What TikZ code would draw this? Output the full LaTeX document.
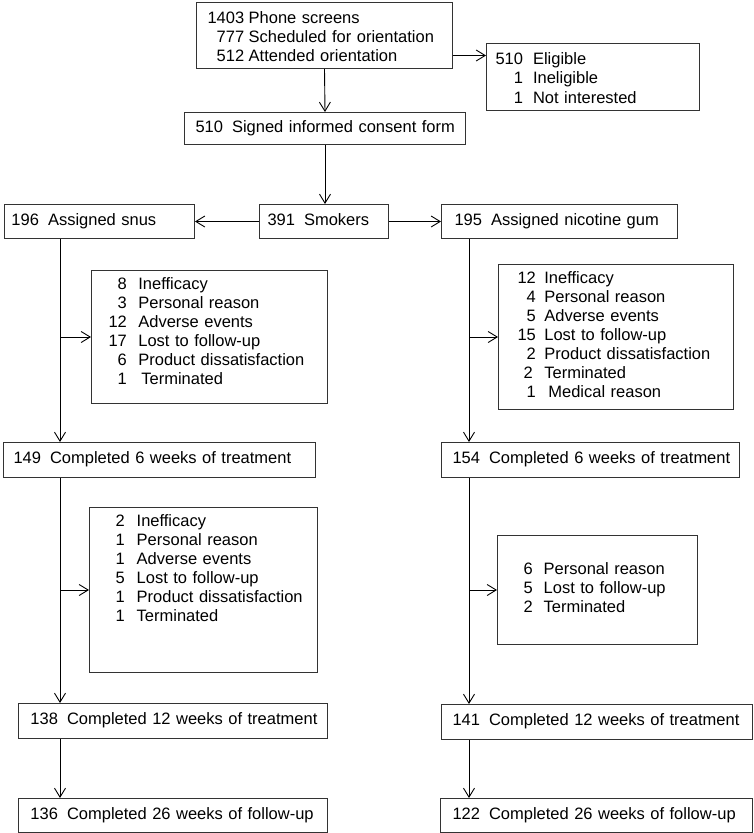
\documentclass[tikz,border=0pt]{standalone}
\usepackage{fontspec}
\setmainfont{Liberation Sans}
\usetikzlibrary{arrows.meta}

\newcommand{\onerow}[2]{\begin{tabular}{@{}l@{}}#1\hspace{9pt}#2\end{tabular}}
\newcommand{\manyrows}[2]{\begin{tabular}{@{}r@{\hspace{#1}}l@{}}#2\end{tabular}}

\begin{document}
\begin{tikzpicture}[x=1pt, y=-1pt, line width=0.9pt,
    box/.style={draw=black!80, line width=1pt, anchor=north west, inner ysep=0pt,
        align=left, font=\fontsize{16.5}{19}\selectfont},
    >={Straight Barb[length=9pt, width=11pt]}]
    \useasboundingbox (0, 0) rectangle (753, 833);

    % screening and enrolment
    \node [box, inner xsep=11pt, text width=234pt, minimum height=66pt] (screens) at (196, 2)
        {\manyrows{4.5pt}{\rule{0pt}{19pt}1403 & Phone screens\\ 777 & Scheduled for orientation\\ 512 & Attended orientation}};
    \node [box, inner xsep=9pt, text width=195pt, minimum height=67pt] (elig) at (486, 43)
        {\manyrows{10pt}{\rule{0pt}{19pt}510 & Eligible\\[0.5pt] 1 & Ineligible\\[0.5pt] 1 & Not interested}};
    \node [box, inner xsep=11pt, text width=259pt, minimum height=32pt] (consent) at (184, 112)
        {\onerow{510}{Signed informed consent form}};

    % randomisation
    \node [box, inner xsep=8pt, text width=113pt, minimum height=34pt] (smokers) at (259, 204)
        {\onerow{391}{Smokers}};
    \node [box, inner xsep=7pt, text width=176pt, minimum height=34pt] (snus) at (4, 204)
        {\onerow{196}{Assigned snus}};
    \node [box, inner xsep=13pt, text width=210pt, minimum height=34pt] (gum) at (441, 204)
        {\onerow{195}{Assigned nicotine gum}};

    % drop-outs, first 6 weeks
    \node [box, inner xsep=17pt, text width=202pt, minimum height=133pt] (snusdrop1) at (91, 270)
        {\manyrows{11.5pt}{8 & Inefficacy\\ 3 & Personal reason\\ 12 & Adverse events\\
        17 & Lost to follow-up\\ 6 & Product dissatisfaction\\ 1 & \hspace*{3pt}Terminated\\[8pt]}};
    \node [box, inner xsep=19pt, text width=197pt, minimum height=145pt] (gumdrop1) at (498, 264)
        {\manyrows{8.5pt}{12 & Inefficacy\\ 4 & Personal reason\\ 5 & Adverse events\\
        15 & Lost to follow-up\\ 2 & Product dissatisfaction\\ 2\hspace*{3pt} & Terminated\\
        1 & \hspace*{4pt}Medical reason}};

    \node [box, inner xsep=10pt, text width=292pt, minimum height=35pt] (snus6) at (3, 442)
        {\onerow{149}{Completed 6 weeks of treatment}};
    \node [box, inner xsep=11pt, text width=276pt, minimum height=35pt] (gum6) at (441, 442)
        {\onerow{154}{Completed 6 weeks of treatment}};

    % drop-outs, weeks 6 to 12
    \node [box, inner xsep=26pt, text width=176pt, minimum height=165pt] (snusdrop2) at (89, 507)
        {\manyrows{12pt}{2 & Inefficacy\\ 1 & Personal reason\\ 1 & Adverse events\\
        5 & Lost to follow-up\\ 1 & Product dissatisfaction\\ 1 & Terminated\\[39pt]}};
    \node [box, inner xsep=26pt, text width=148pt, minimum height=109pt] (gumdrop2) at (497, 535)
        {\manyrows{11pt}{6 & Personal reason\\ 5 & Lost to follow-up\\ 2 & Terminated}};

    \node [box, inner xsep=12pt, text width=285pt, minimum height=35pt] (snus12) at (18, 703)
        {\onerow{138}{Completed 12 weeks of treatment}};
    \node [box, inner xsep=11pt, text width=289pt, minimum height=35pt] (gum12) at (441, 704)
        {\onerow{141}{Completed 12 weeks of treatment}};
    \node [box, inner xsep=12pt, text width=285pt, minimum height=34pt] (snus26) at (18, 798)
        {\onerow{136}{Completed 26 weeks of follow-up}};
    \node [box, inner xsep=12pt, text width=288pt, minimum height=34pt] (gum26) at (440, 798)
        {\onerow{122}{Completed 26 weeks of follow-up}};

    % arrows
    \coordinate (lline) at (60, 0);
    \coordinate (rline) at (469, 0);
    \draw [->] (screens.south) -- (consent.north);
    \draw [->] ([yshift=-20pt]screens.east) -- ([yshift=-20pt]screens.east -| elig.west);
    \draw [->] (consent.south) -- (consent.south |- smokers.north);
    \draw [->] (smokers.west) -- (snus.east);
    \draw [->] (smokers.east) -- (gum.west);

    \draw [->] (lline |- snus.south) -- (lline |- snus6.north);
    \draw [->] (lline |- snusdrop1.west) -- (snusdrop1.west);
    \draw [->] (lline |- snus6.south) -- (lline |- snus12.north);
    \draw [->] (lline |- snusdrop2.west) -- (snusdrop2.west);
    \draw [->] (lline |- snus12.south) -- (lline |- snus26.north);

    \draw [->] (rline |- gum.south) -- (rline |- gum6.north);
    \draw [->] (rline |- gumdrop1.west) -- (gumdrop1.west);
    \draw [->] (rline |- gum6.south) -- (rline |- gum12.north);
    \draw [->] (rline |- gumdrop2.west) -- (gumdrop2.west);
    \draw [->] (rline |- gum12.south) -- (rline |- gum26.north);
\end{tikzpicture}
\end{document}
